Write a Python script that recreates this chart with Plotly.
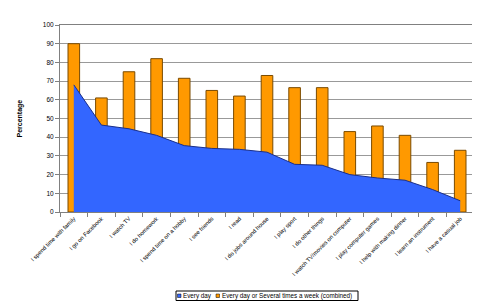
import plotly.graph_objects as go

categories = [
    "I spend time with family", "I go on Facebook", "I watch TV", "I do homework",
    "I spend time on a hobby", "I see friends", "I read", "I do jobs around house",
    "I play sport", "I do other things", "I watch TV/movies on computer",
    "I play computer games", "I help with making dinner", "I learn an instrument",
    "I have a casual job",
]
every_day = [68, 46.5, 44.5, 41, 35.5, 34, 33.5, 32, 25.5, 25, 20, 18.2, 17, 12, 6]
combined = [90, 61, 75, 82, 71.5, 65, 62, 73, 66.5, 66.5, 43, 46, 41, 26.5, 33]
y_ticks = [0, 10, 20, 30, 40, 50, 60, 70, 80, 90, 100]
series_names = ["Every day", "Every day or Several times a week (combined)"]

FONT = "Liberation Sans, Arial, sans-serif"
BLUE = "#3366FF"
ORANGE = "#FF9900"

# page body has an 8px margin; target plot box in window pixels
OFF = 8
W, H = 480, 301
PL, PR, PT, PB = 60, 474, 25, 212
L, T = PL - OFF, PT - OFF
R, B = W - (PR - OFF), H - (PB - OFF)
PW, PH = PR - PL, PB - PT


def px(x):
    return (x - PL) / PW


def py(y):
    return (PB - y) / PH


fig = go.Figure()
fig.add_trace(go.Scatter(
    x=categories, y=every_day, name=series_names[0], mode="lines",
    fill="tozeroy", fillcolor=BLUE,
    line=dict(color="#1a2f8a", width=1),
))
fig.add_trace(go.Bar(
    x=categories, y=combined, name=series_names[1],
    marker=dict(color=ORANGE, line=dict(color="#7a4a00", width=1)),
))

fig.update_layout(
    width=W, height=H,
    margin=dict(l=L, r=R, t=T, b=B, autoexpand=False),
    paper_bgcolor="white", plot_bgcolor="white",
    bargap=0.58,
    font=dict(family=FONT, size=7, color="#000000"),
    showlegend=False,
)
fig.update_xaxes(
    type="category", tickangle=-45, tickfont=dict(size=5.8, color="#000000"),
    showgrid=False, showline=True, linecolor="#808080", linewidth=1, mirror=True,
    ticks="outside", tickson="boundaries", ticklen=4, tickcolor="#808080",
)
fig.update_yaxes(
    range=[0, 100], tickvals=y_ticks, tickfont=dict(size=6.5, color="#000000"),
    showgrid=True, gridcolor="#999999", gridwidth=1,
    showline=True, linecolor="#808080", linewidth=1, mirror=True,
    ticks="outside", ticklen=4, tickcolor="#808080", zeroline=False,
)
fig.add_annotation(
    text="<b>Percentage</b>", xref="paper", yref="paper",
    x=px(13), y=0.5, textangle=-90, showarrow=False,
    font=dict(size=7, family=FONT, color="#000000"),
)

# legend at the bottom
fig.add_shape(type="rect", xref="paper", yref="paper",
              x0=px(176), x1=px(358), y0=py(291), y1=py(300.5),
              line=dict(color="#000000", width=1), fillcolor="white", layer="above")
for sx, tx, name, col in [(177.5, 182, series_names[0], BLUE),
                          (216, 220.5, series_names[1], ORANGE)]:
    fig.add_shape(type="rect", xref="paper", yref="paper",
                  x0=px(sx), x1=px(sx + 3.5), y0=py(294), y1=py(297.5),
                  line=dict(color="#000000", width=0.5), fillcolor=col, layer="above")
    fig.add_annotation(text=name, xref="paper", yref="paper",
                       x=px(tx), y=py(295.8), xanchor="left", yanchor="middle",
                       showarrow=False, borderpad=0,
                       font=dict(size=6.3, family=FONT, color="#000000"))

fig.write_html("out.html")
